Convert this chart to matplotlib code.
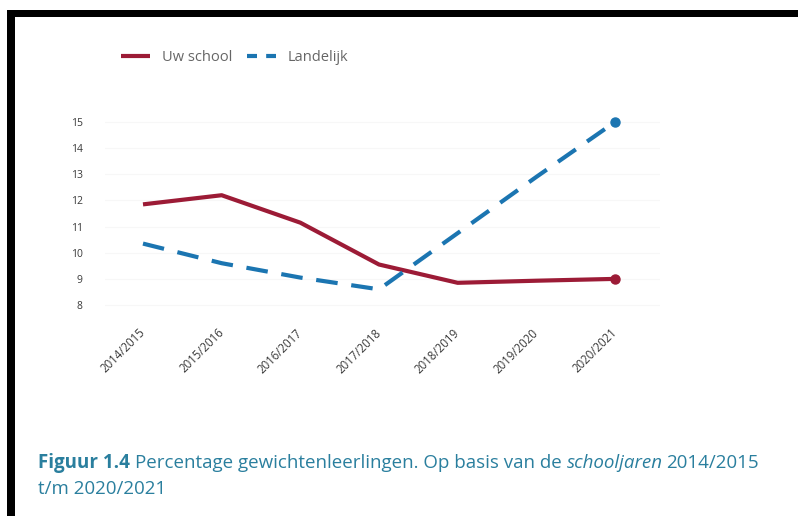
import matplotlib
matplotlib.use("Agg")
import matplotlib.pyplot as plt
from matplotlib.patches import Rectangle
from matplotlib.lines import Line2D

# Schooljaren en percentages gewichtenleerlingen
schooljaren = ["2014/2015", "2015/2016", "2016/2017", "2017/2018",
               "2018/2019", "2019/2020", "2020/2021"]
uw_school = [11.85, 12.2, 11.15, 9.55, 8.85, 8.93, 9.0]
landelijk = [10.35, 9.6, 9.05, 8.6, 10.75, 12.9, 15.0]
y_ticks = [8, 9, 10, 11, 12, 13, 14, 15]

RED = "#9c1b36"
BLUE = "#1b75b1"
TEAL = "#2a7f9e"
GREY = "#3a3a3a"

plt.rcParams["font.family"] = ["Open Sans", "DejaVu Sans"]

fig = plt.figure(figsize=(7.98, 5.16), dpi=100)
W, H = 798, 516

# Black frame along the top and left edge
fig.patches.append(Rectangle((7 / W, 1 - 17 / H), 1, 7 / H, transform=fig.transFigure,
                             facecolor="black", edgecolor="none", zorder=10))
fig.patches.append(Rectangle((7 / W, 0), 8 / W, 1 - 10 / H, transform=fig.transFigure,
                             facecolor="black", edgecolor="none", zorder=10))

left, right, top, bottom = 105, 660, 116, 310
ax = fig.add_axes([left / W, 1 - bottom / H, (right - left) / W, (bottom - top) / H])

x = list(range(len(schooljaren)))
ax.plot(x, uw_school, color=RED, lw=3.0, solid_capstyle="butt", solid_joinstyle="round",
        zorder=3)
ax.plot(x, landelijk, color=BLUE, lw=3.0, linestyle=(0, (5.2, 3.3)),
        dash_capstyle="butt", zorder=3)
ax.plot([x[-1]], [uw_school[-1]], "o", color=RED, ms=6.5, zorder=4)
ax.plot([x[-1]], [landelijk[-1]], "o", color=BLUE, ms=6.5, zorder=4)

ax.set_xlim(-0.483, 6.572)
ax.set_ylim(7.81, 15.23)
ax.set_yticks(y_ticks)
ax.set_yticklabels([str(v) for v in y_ticks], fontsize=7.5, color=GREY)
ax.set_xticks(x)
ax.set_xticklabels(schooljaren, fontsize=8.3, color=GREY, rotation=45,
                   ha="right", va="center", rotation_mode="anchor")
ax.tick_params(axis="y", length=0, pad=16)
ax.tick_params(axis="x", length=0, pad=15)
ax.grid(axis="y", color="#f7f7f7", lw=0.8)
ax.set_axisbelow(True)
for s in ax.spines.values():
    s.set_visible(False)

# Legend handles with a shorter dash for the national line
handles = [
    Line2D([], [], color=RED, lw=3.0, solid_capstyle="butt"),
    Line2D([], [], color=BLUE, lw=3.0, linestyle=(0, (2.4, 2.2)), dash_capstyle="butt"),
]
leg = fig.legend(handles, ["Uw school", "Landelijk"], loc="upper left",
                 bbox_to_anchor=(115 / W, 1 - 44 / H), ncol=2,
                 frameon=False, fontsize=10.5, handlelength=2.0, handletextpad=0.8,
                 columnspacing=1.0, borderaxespad=0)
for t in leg.get_texts():
    t.set_color("#666666")

# Caption below the chart
FS = 13.5
cap_y = 1 - 463 / H
t1 = fig.text(38 / W, cap_y, "Figuur 1.4", fontsize=FS, fontweight="bold",
              color=TEAL, va="center")
fig.canvas.draw()
bb = t1.get_window_extent()
t2 = fig.text(bb.x1 / W + 5 / W, cap_y, "Percentage gewichtenleerlingen. Op basis van de ",
              fontsize=FS, color=TEAL, va="center")
fig.canvas.draw()
bb = t2.get_window_extent()
t3 = fig.text(bb.x1 / W, cap_y, "schooljaren", fontsize=FS, style="italic",
              color=TEAL, va="center")
fig.canvas.draw()
bb = t3.get_window_extent()
fig.text(bb.x1 / W + 4 / W, cap_y, "2014/2015", fontsize=FS, color=TEAL, va="center")
fig.text(38 / W, 1 - 489 / H, "t/m 2020/2021", fontsize=FS, color=TEAL, va="center")

fig.savefig("out.png", dpi=100, facecolor="white")
